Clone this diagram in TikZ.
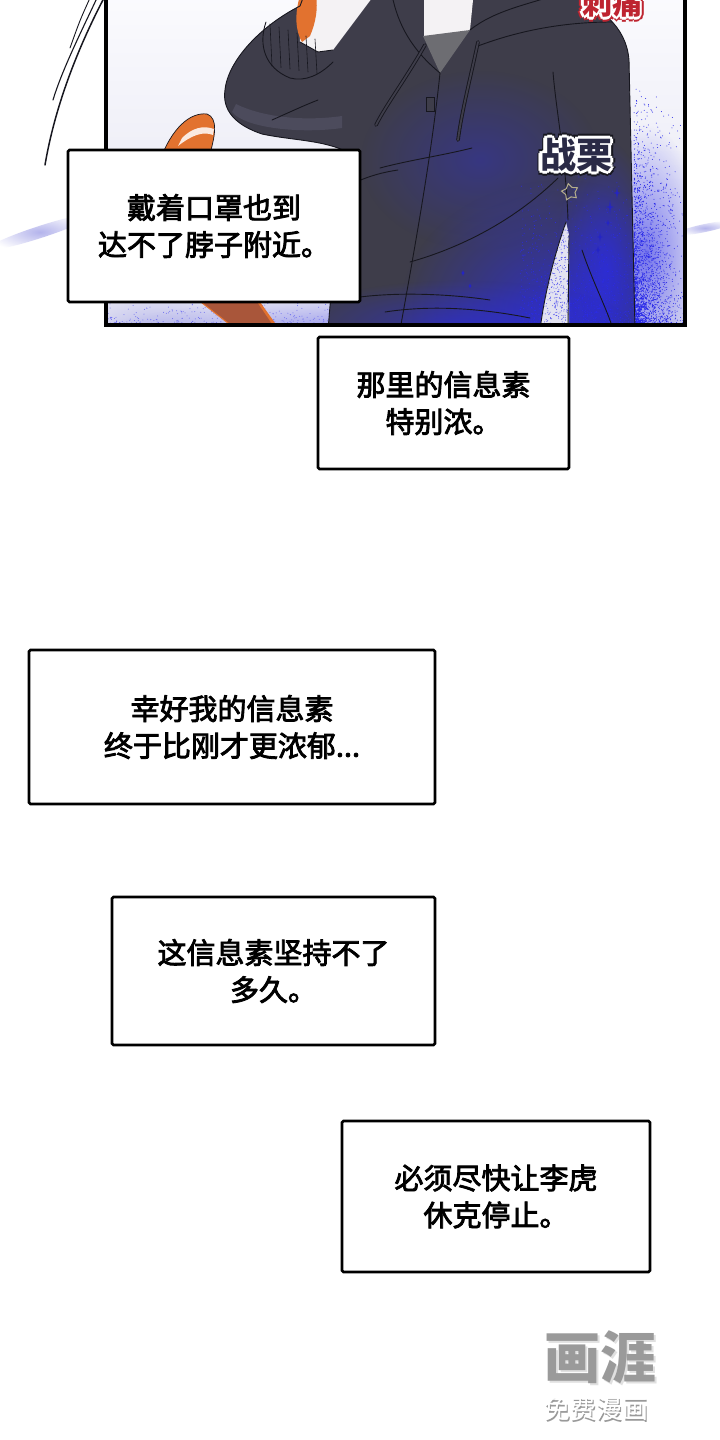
\documentclass[tikz,border=0pt]{standalone}
\usepackage{fontspec}
\newfontfamily\cjk{Noto Sans CJK SC}
\newfontfamily\cjkmed[FakeBold=2.8]{Noto Sans CJK SC}
\usetikzlibrary{fadings,calc,shapes.geometric}

\definecolor{hoodie}{HTML}{3E3D4A}
\definecolor{hoodielt}{HTML}{4C4B5C}
\definecolor{ink}{HTML}{17171F}
\definecolor{aura}{HTML}{2B2BE8}
\definecolor{auralt}{HTML}{B4B4EC}
\definecolor{skyhi}{HTML}{FBFBFE}
\definecolor{skylo}{HTML}{E3E3F1}
\definecolor{tailor}{HTML}{E2722F}
\definecolor{taildk}{HTML}{A9563A}
\definecolor{shirt}{HTML}{6D6D72}
\definecolor{skin}{HTML}{F4F2F4}
\definecolor{sfxred}{HTML}{BE2430}
\definecolor{sfxink}{HTML}{2A2A46}
\definecolor{starline}{HTML}{B5AE8C}
\definecolor{markgray}{HTML}{9A9A9A}

\tikzfading[name=fuzzyedge, inner color=transparent!0, outer color=transparent!100]

\tikzset{
  caption/.style={draw, line width=2.6pt, rounded corners=1.5pt, fill=white,
    inner sep=0pt, align=center, font=\cjkmed\fontsize{29}{37}\selectfont},
  inkline/.style={draw=ink, line width=0.9pt, line cap=round},
  string/.style={inkline, double=hoodie, double distance=1.8pt},
  speedline/.style={draw=ink, line width=1.5pt, line cap=round},
  sfx/.style={font=\cjk\bfseries\fontsize{36}{36}\selectfont, inner sep=0pt},
  sting/.style={font=\cjk\bfseries\fontsize{30}{30}\selectfont, inner sep=0pt},
}

% outline of the hoodie (torso + raised sleeve)
\newcommand\hoodieshape{(328,330) -- (343,150)
  .. controls (320,140) and (290,140) .. (262,134)
  .. controls (235,125) and (222,110) .. (225,90)
  .. controls (228,60) and (262,25) .. (300,6)
  -- (306,-10) -- (566,-10)
  .. controls (600,8) and (626,25) .. (629,60)
  -- (635,330) -- cycle}

\begin{document}
\begin{tikzpicture}[x=1pt,y=-1pt]
  \useasboundingbox (0,0) rectangle (720,1440);
  \fill[white] (0,0) rectangle (720,1440);

  % speed lines and spray outside the panel
  \draw[speedline] (104,-2) .. controls (82,40) and (56,100) .. (45,165);
  \draw[speedline, line width=1.1pt] (97,-2) .. controls (82,30) and (62,70) .. (53,100);
  \draw[speedline, line width=0.9pt] (90,-2) .. controls (80,20) .. (70,48);
  \fill[auralt, path fading=fuzzyedge, rotate around={18:(40,232)}] (40,232) ellipse (55 and 6);
  \fill[auralt, path fading=fuzzyedge, rotate around={12:(705,228)}] (705,228) ellipse (30 and 4);

  \begin{scope}
    \clip (106,-10) rectangle (685,325);
    \shade[top color=skyhi, bottom color=skylo] (106,-10) rectangle (685,325);

    % aura around the figure
    \fill[aura, opacity=0.6, path fading=fuzzyedge] (645,255) ellipse (60 and 130);
    \fill[aura, opacity=0.5, path fading=fuzzyedge] (400,335) ellipse (300 and 40);
    \fill[auralt, opacity=0.9, path fading=fuzzyedge] (160,330) ellipse (90 and 35);
    \pgfmathsetseed{11}
    \fill[aura] \foreach \k in {1,...,2200}{({634+52*rnd*rnd},{325-240*rnd*rnd}) circle (0.5)};
    \fill[aura!70!white] \foreach \k in {1,...,900}{({108+530*rnd},{326-30*rnd*rnd}) circle (0.5)};

    % tail
    \fill[tailor] (160,160) .. controls (172,128) and (190,112) .. (207,114)
      .. controls (218,118) and (216,135) .. (208,160) -- (260,302) -- (280,330)
      -- (236,330) -- (200,302) -- cycle;
    \fill[white, opacity=0.85] (182,138) .. controls (192,128) and (203,125) .. (214,129)
      -- (213,135) .. controls (203,131) and (192,135) .. (178,146) -- cycle;
    \fill[taildk] (202,302) -- (257,302) -- (276,330) -- (238,330) -- cycle;
    \draw[inkline, line width=0.7pt] (160,160) .. controls (172,128) and (190,112) .. (207,114)
      .. controls (218,118) and (216,135) .. (208,160);

    % hoodie
    \fill[hoodie] \hoodieshape;
    \fill[hoodielt] (232,112) .. controls (245,128) and (300,134) .. (342,128)
      -- (342,116) .. controls (300,122) and (260,116) .. (236,104) -- cycle;
    % wrist, neck and shirt
    \fill[skin] (298,-10) -- (300,42) -- (318,52) -- (333,50) -- (378,-10) -- cycle;
    \fill[tailor] (300,-4) .. controls (294,15) and (296,32) .. (302,42)
      -- (310,36) .. controls (316,22) and (318,8) .. (316,-4) -- cycle;
    \fill[skin] (424,-10) -- (474,-10) -- (470,30) .. controls (455,37) and (440,38) .. (424,36) -- cycle;
    \fill[shirt] (423,36) -- (470,30) -- (440,73) -- cycle;

    % blue haze over the hoodie
    \begin{scope}
      \clip \hoodieshape;
      \fill[aura, opacity=0.35, path fading=fuzzyedge] (480,160) ellipse (120 and 90);
      \fill[aura, opacity=0.75, path fading=fuzzyedge] (560,310) ellipse (160 and 130);
      \fill[aura, opacity=0.75, path fading=fuzzyedge] (605,270) ellipse (50 and 130);
      \fill[aura, opacity=0.6, path fading=fuzzyedge] (460,325) ellipse (170 and 45);
      \fill[aura] \foreach \k in {1,...,900}{({520+115*rnd},{326-160*rnd*rnd}) circle (0.5)};
    \end{scope}

    % gap between arm and body
    \fill[skylo] (566,222) .. controls (556,250) and (545,290) .. (540,330) -- (569,330) -- (569,235) -- cycle;
    \begin{scope}
      \clip (566,222) .. controls (556,250) and (545,290) .. (540,330) -- (569,330) -- (569,235) -- cycle;
      \fill[aura!80!white] \foreach \k in {1,...,500}{({538+31*rnd},{220+110*rnd}) circle (0.5)};
    \end{scope}

    % hoodie lines
    \draw[inkline] \hoodieshape;
    \draw[inkline] (300,42) -- (318,52) -- (333,50);
    \draw[inkline] (392,-5) .. controls (398,25) and (412,50) .. (440,73);
    \draw[inkline] (470,30) .. controls (495,10) and (530,4) .. (555,-5);
    \draw[inkline] (478,46) .. controls (515,32) and (560,22) .. (612,22);
    \draw[inkline] (440,73) .. controls (432,150) and (418,230) .. (400,330);
    \draw[inkline, fill=hoodie] (426,97) rectangle (434,111);
    \draw[string] (425,45) .. controls (405,80) and (386,105) .. (376,125);
    \draw[string] (478,42) .. controls (470,80) and (462,110) .. (458,140);
    \draw[inkline] (553,72) .. controls (556,110) and (566,160) .. (568,220);
    \draw[inkline] (566,222) .. controls (556,250) and (545,290) .. (540,330);
    \draw[inkline] (569,235) -- (568,330);
    \draw[inkline] (380,168) .. controls (410,160) and (440,156) .. (472,148);
    \draw[inkline] (410,262) .. controls (470,245) and (520,215) .. (558,178);
    \draw[inkline] (352,184) .. controls (368,176) and (384,172) .. (398,170);
    \draw[inkline] (360,297) .. controls (400,292) and (450,294) .. (490,300);
    \draw[inkline] (385,312) .. controls (430,305) and (480,308) .. (530,318);
    \draw[inkline] (272,120) .. controls (290,112) and (305,105) .. (318,100);
    \draw[inkline] (582,250) .. controls (592,280) and (605,305) .. (612,326);
    % cuff ribbing
    \draw[inkline] (266,22) .. controls (258,45) and (265,68) .. (290,78)
      .. controls (305,82) and (320,75) .. (333,62);
    \foreach \r in {0,...,5}
      \draw[inkline, line width=0.6pt] ({270+9*\r},{24+3*\r}) -- ({272+9*\r},{66+1.5*\r});

    % sparkles and star
    \fill[aura!85!black] \foreach \sx/\sy/\sr in {617/193/6, 610/207/7, 608/223/3, 600/237/5, 598/250/4, 463/273/3, 470/286/2.5}
      {({\sx},{\sy-\sr}) -- ({\sx+0.8},{\sy-0.8}) -- ({\sx+0.6*\sr},{\sy}) -- ({\sx+0.8},{\sy+0.8})
       -- ({\sx},{\sy+\sr}) -- ({\sx-0.8},{\sy+0.8}) -- ({\sx-0.6*\sr},{\sy}) -- ({\sx-0.8},{\sy-0.8}) -- cycle};
    \node[draw=starline, star, star points=5, star point ratio=1.7, minimum size=17pt,
      inner sep=0pt, line width=1pt, rotate=12] (tremblestar) at (570,192) {};

    % sound effects
    \foreach \a in {0,45,...,315}
      \node[sfx, text=ink] (tremblerim\a) at ($(576,155)+(\a:5)$) {战栗};
    \foreach \a in {0,45,...,315}
      \node[sfx, text=white] (tremblehalo\a) at ($(576,155)+(\a:3.4)$) {战栗};
    \node[sfx, text=sfxink] (tremble) at (576,155) {战栗};
    \foreach \a in {0,45,...,315}
      \node[sting, text=sfxred] (stingrim\a) at ($(612,3)+(\a:4.5)$) {刺痛};
    \foreach \a in {0,45,...,315}
      \node[sting, text=white] (stinghalo\a) at ($(612,3)+(\a:2.6)$) {刺痛};
    \node[sting, text=sfxred] (sting) at (612,3) {刺痛};
  \end{scope}
  \draw[line width=3.4pt] (106,-10) rectangle (685,325);

  % captions
  \node[caption, minimum width=292pt, minimum height=152pt] (mask) at (214,226) {戴着口罩也到\\达不了脖子附近。};
  \node[caption, minimum width=251pt, minimum height=132pt] (neck) at (443.5,403) {那里的信息素\\特别浓。};
  \node[caption, minimum width=406pt, minimum height=154pt] (mine) at (232,727) {幸好我的信息素\\终于比刚才更浓郁...};
  \node[caption, minimum width=323pt, minimum height=148pt] (last) at (273.5,971) {这信息素坚持不了\\多久。};
  \node[caption, minimum width=308pt, minimum height=151pt] (stop) at (496,1196.5) {必须尽快让李虎\\休克停止。};

  % watermark
  \node[font=\cjk\bfseries\fontsize{56}{56}\selectfont, text=black!12, inner sep=0pt] (logoglow) at (602,1359) {画涯};
  \node[font=\cjk\bfseries\fontsize{56}{56}\selectfont, text=markgray, inner sep=0pt] (logo) at (600,1357) {画涯};
  \node[font=\cjk\fontsize{26}{26}\selectfont, text=black!40, inner sep=0pt] (freeshadow) at (597.5,1410.5) {免费漫画};
  \node[font=\cjk\fontsize{26}{26}\selectfont, text=white, inner sep=0pt] (free) at (596,1409) {免费漫画};
\end{tikzpicture}
\end{document}
